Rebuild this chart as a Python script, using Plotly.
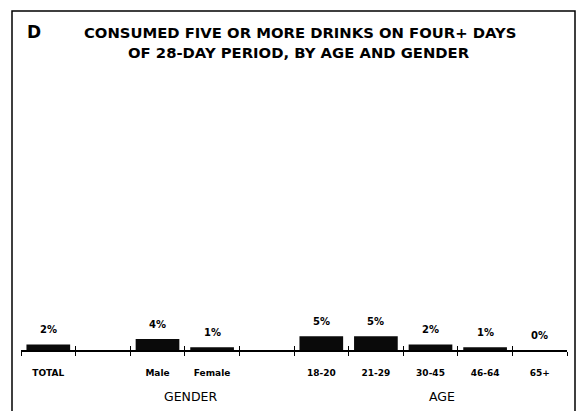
import plotly.graph_objects as go

# categories along the axis (blank ones are the empty slots between groups)
slots = ["TOTAL", " ", "Male", "Female", "  ", "18-20", "21-29", "30-45", "46-64", "65+"]
categories = ["TOTAL", "Male", "Female", "18-20", "21-29", "30-45", "46-64", "65+"]
values = [2, 4, 1, 5, 5, 2, 1, 0]
labels = ["2%", "4%", "1%", "5%", "5%", "2%", "1%", "0%"]

W, H = 580, 411
L, R, T, B = 21, 13, 75, 61
pw, ph = W - L - R, H - T - B

def px(x):
    return (x - L) / pw

def py(y):
    return (H - B - y) / ph

bold = "DejaVu Sans"

fig = go.Figure()
fig.add_trace(go.Bar(
    x=categories, y=values,
    marker=dict(color="#0a0a0a", line=dict(width=0)), width=0.8,
    hoverinfo="skip", showlegend=False,
))
# invisible trace on overlay axis to give the upward half of the tick crosses
fig.add_trace(go.Scatter(x=categories, y=values, xaxis="x2", mode="markers",
                         marker=dict(opacity=0), showlegend=False, hoverinfo="skip"))

# value labels sit well above each bar
for c, v, t in zip(categories, values, labels):
    fig.add_annotation(x=c, y=v, text=t, showarrow=False, yanchor="middle", yshift=15,
                       font=dict(family=bold, size=10, color="black", weight="bold"))

fig.update_layout(
    width=W, height=H,
    margin=dict(l=L, r=R, t=T, b=B),
    paper_bgcolor="white", plot_bgcolor="white",
    bargap=0.2,
    xaxis=dict(
        type="category", categoryorder="array", categoryarray=slots,
        range=[-0.5, len(slots) - 0.5],
        tickson="boundaries", ticks="outside", ticklen=4, tickwidth=1.3, tickcolor="black",
        showline=True, linecolor="black", linewidth=1.5, showgrid=False,
        tickfont=dict(family=bold, size=9, color="black", weight="bold"),
        ticklabelstandoff=13,
    ),
    xaxis2=dict(
        type="category", categoryorder="array", categoryarray=slots,
        range=[-0.5, len(slots) - 0.5], overlaying="x", anchor="y", side="bottom",
        tickson="boundaries", ticks="inside", ticklen=4, tickwidth=1.3, tickcolor="black",
        showticklabels=False, showline=False, showgrid=False,
    ),
    yaxis=dict(range=[0, 100], visible=False, fixedrange=True),
)

fig.add_shape(type="rect", xref="paper", yref="paper",
              x0=px(12), x1=px(575), y0=py(430), y1=py(11),
              line=dict(color="black", width=1.5), fillcolor="rgba(0,0,0,0)", layer="below")

fig.add_annotation(text="D", xref="paper", yref="paper", x=px(34), y=py(32),
                   showarrow=False, xanchor="center", yanchor="middle",
                   font=dict(family=bold, size=17, color="black", weight="bold"))
fig.add_annotation(text="CONSUMED FIVE OR MORE DRINKS ON FOUR+ DAYS",
                   xref="paper", yref="paper", x=px(300), y=py(33),
                   showarrow=False, xanchor="center", yanchor="middle",
                   font=dict(family=bold, size=14.8, color="black", weight="bold"))
fig.add_annotation(text="OF 28-DAY PERIOD, BY AGE AND GENDER",
                   xref="paper", yref="paper", x=px(299), y=py(53),
                   showarrow=False, xanchor="center", yanchor="middle",
                   font=dict(family=bold, size=14.8, color="black", weight="bold"))
fig.add_annotation(text="GENDER", xref="paper", yref="paper", x=px(190), y=py(396),
                   showarrow=False, xanchor="center", yanchor="middle",
                   font=dict(family="DejaVu Sans", size=12.5, color="black"))
fig.add_annotation(text="AGE", xref="paper", yref="paper", x=px(442), y=py(396),
                   showarrow=False, xanchor="center", yanchor="middle",
                   font=dict(family="DejaVu Sans", size=12.5, color="black"))

fig.write_html("out.html", config={"displayModeBar": False},
               post_script="document.body.style.margin='0';")
